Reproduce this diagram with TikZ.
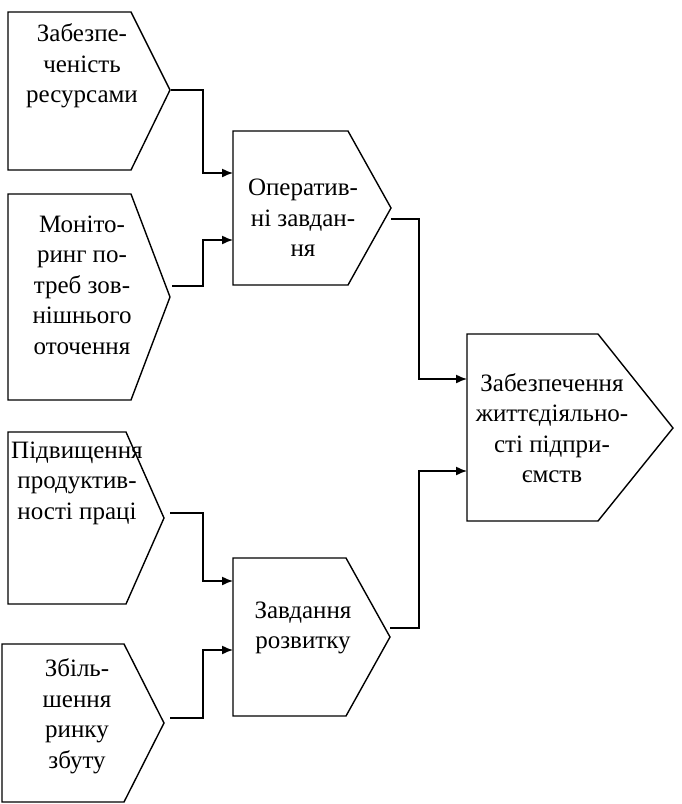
\documentclass[tikz,border=0pt]{standalone}
\usepackage{fontspec}
\setmainfont{Liberation Serif}
\usetikzlibrary{arrows.meta}
\begin{document}
\begin{tikzpicture}[x=1pt,y=-1pt,
  shapeline/.style={draw=black,line width=1.4pt,line join=miter},
  lbl/.style={align=center,inner sep=0pt,font=\fontsize{25}{30.5}\selectfont},
  conn/.style={draw=black,line width=1.4pt,-{Latex[length=11pt,width=9pt]}}]
\useasboundingbox (0,0) rectangle (682,804);
% shapes
\draw[shapeline] (8,12) -- (131,12) -- (170,90) -- (131,170) -- (8,170) -- cycle;
\draw[shapeline] (8,194) -- (131,194) -- (170,297) -- (131,400) -- (8,400) -- cycle;
\draw[shapeline] (8,432) -- (126,432) -- (164,518) -- (126,604) -- (8,604) -- cycle;
\draw[shapeline] (2,644) -- (124,644) -- (164,723) -- (124,802) -- (2,802) -- cycle;
\draw[shapeline] (233,131) -- (348,131) -- (391,208) -- (348,285) -- (233,285) -- cycle;
\draw[shapeline] (233,558) -- (346,558) -- (390,637) -- (346,716) -- (233,716) -- cycle;
\draw[shapeline] (467,334) -- (598,334) -- (673,428) -- (598,521) -- (467,521) -- cycle;
% labels
\node[lbl] (t1) at (82,66) {Забезпе-\\ченість\\ресурсами};
\node[lbl] (t2) at (82,285) {Моніто-\\ринг по-\\треб зов-\\нішнього\\оточення};
\node[lbl] (t3) at (77,483) {Підвищення\\продуктив-\\ності праці};
\node[lbl] (t4) at (77,716) {Збіль-\\шення\\ринку\\збуту};
\node[lbl] (t5) at (303,218) {Оператив-\\ні завдан-\\ня};
\node[lbl] (t6) at (303,628) {Завдання\\розвитку};
\node[lbl] (t7) at (552,428) {Забезпечення\\життєдіяльно-\\сті підпри-\\ємств};
% connector ends
\coordinate (o1) at (171,90);
\coordinate (o2) at (172,286);
\coordinate (o3) at (170,513);
\coordinate (o4) at (170,718);
\coordinate (o5) at (391,219);
\coordinate (o6) at (390,628);
\coordinate (i1) at (233,173);
\coordinate (i2) at (233,240);
\coordinate (i3) at (233,581);
\coordinate (i4) at (233,650);
\coordinate (i5) at (467,379);
\coordinate (i6) at (467,471);
% connectors
\draw[conn] (o1) -- ++(32,0) |- (i1);
\draw[conn] (o2) -- ++(31,0) |- (i2);
\draw[conn] (o3) -- ++(33,0) |- (i3);
\draw[conn] (o4) -- ++(33,0) |- (i4);
\draw[conn] (o5) -- ++(28,0) |- (i5);
\draw[conn] (o6) -- ++(29,0) |- (i6);
\end{tikzpicture}
\end{document}
